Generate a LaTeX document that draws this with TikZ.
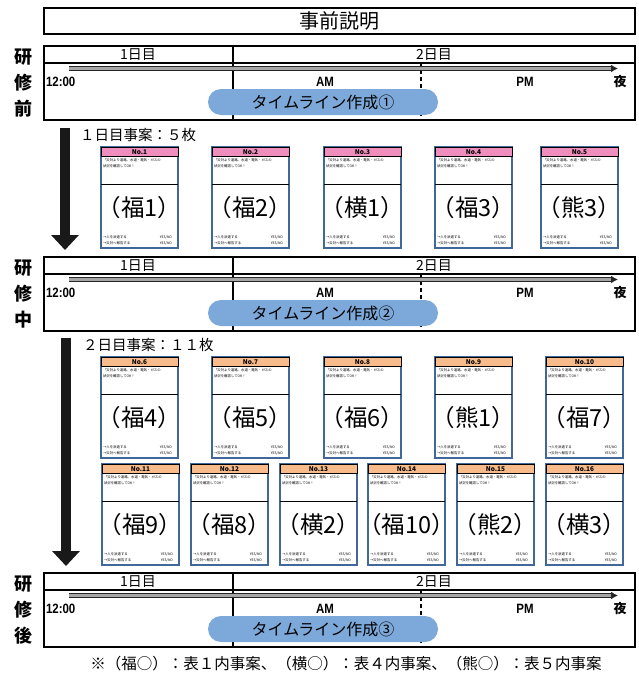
\documentclass[tikz,border=0pt]{standalone}
\usepackage{fontspec}
\setmainfont{Noto Sans CJK JP}
\newfontfamily\latf{Liberation Sans}
\usetikzlibrary{arrows.meta}
\definecolor{pillblue}{HTML}{7CA9DA}
\definecolor{cardblue}{HTML}{41689A}
\definecolor{headpink}{HTML}{EF8DBD}
\definecolor{headorange}{HTML}{F8BC8C}
\tikzset{
  frame/.style={draw=black, line width=1.8pt},
  frameline/.style={draw=black, line width=1.8pt},
  dashline/.style={draw=black, line width=2pt, dash pattern=on 4pt off 3pt},
  daylbl/.style={font=\fontsize{14}{14}\selectfont},
  timelbl/.style={font=\latf\bfseries\fontsize{13.5}{13.5}\selectfont},
  nightlbl/.style={font=\bfseries\fontsize{13}{13}\selectfont},
  sidelbl/.style={font=\bfseries\fontsize{18}{18}\selectfont},
  pill/.style={fill=pillblue, rounded corners=13pt, minimum width=230pt, minimum height=26pt, font=\fontsize{16}{16}\selectfont},
  tline/.style={draw=black!85, line width=1.4pt, double=gray!70, double distance=2.2pt, -{Latex[length=7pt,width=8pt]}},
  bigarrow/.style={draw=black!90, line width=10pt, -{Triangle[length=15pt,width=27pt]}},
  cardframe/.style={draw=cardblue, line width=1.4pt, minimum width=77pt, minimum height=101pt, anchor=north west},
  cardhead/.style={draw=black, line width=1pt, minimum width=77pt, minimum height=9.5pt, anchor=north west, font=\bfseries\fontsize{6.5}{6.5}\selectfont},
  tinytxt/.style={font=\fontsize{3.4}{5.4}\selectfont, align=left},
  bigtxt/.style={font=\fontsize{23.5}{23.5}\selectfont},
  countlbl/.style={font=\fontsize{14.5}{14.5}\selectfont, anchor=west}
}
\newcommand\tlbox[6]{%
  \node[frame, minimum width=591pt, minimum height=74pt, anchor=north west] (tl#6) at (44,#1) {};
  \draw[frameline] (44,#1+17) -- (635,#1+17);
  \draw[frameline] (233,#1) -- (233,#1+74);
  \draw[dashline] (421,#1+17) -- (421,#1+74);
  \node[daylbl] (da#6) at (138,#1+9) {1日目};
  \node[daylbl] (db#6) at (434,#1+9) {2日目};
  \coordinate (as#6) at (69,#1+22.5);
  \coordinate (ae#6) at (618,#1+22.5);
  \draw[tline] (as#6) -- (ae#6);
  \node[timelbl, anchor=west] (n#6) at (46,#1+36) {\scalebox{0.85}[1]{12:00}};
  \node[timelbl] (am#6) at (325,#1+36) {\scalebox{0.85}[1]{AM}};
  \node[timelbl] (pm#6) at (525,#1+36) {\scalebox{0.85}[1]{PM}};
  \node[nightlbl] (y#6) at (620,#1+36) {夜};
  \node[pill] (p#6) at (323,#1+56) {タイムライン作成#5};
  \node[sidelbl] (sa#6) at (23,#1+11) {研};
  \node[sidelbl] (sb#6) at (23,#1+37) {修};
  \node[sidelbl] (sc#6) at (23,#1+63) {#2};
}
\newcommand\jcard[6]{% name, x, y, number, label, colour
  \begin{scope}[shift={(#2,#3)}]
    \node[cardframe, fill=white] (c#1) at (0,0) {};
    \node[cardhead, fill=#6] (h#1) at (0,0) {No.#4};
    \node[tinytxt, anchor=north west] (u#1) at (2,12) {「災対より道路、水道・電気・ガスの\\状況を確認してOK！};
    \draw[black, line width=1.2pt] (0,37.5) -- (77,37.5);
    \node[bigtxt] (l#1) at (38.5,61) {（#5）};
    \node[tinytxt, anchor=west] (pa#1) at (2,90.5) {→人を派遣する};
    \node[tinytxt, anchor=east] (ya#1) at (71,90.5) {YES/NO};
    \node[tinytxt, anchor=west] (pb#1) at (2,96.5) {→災対へ報告する};
    \node[tinytxt, anchor=east] (yb#1) at (71,96.5) {YES/NO};
  \end{scope}
}
\begin{document}
\begin{tikzpicture}[x=1pt,y=-1pt, every node/.style={inner sep=0pt, outer sep=0pt}]
\useasboundingbox (0,0) rectangle (638,675);
% title
\node[frame, minimum width=591pt, minimum height=26pt, anchor=north west] (title) at (44,8) {};
\node[font=\fontsize{20}{20}\selectfont] (titletext) at (339.5,21) {事前説明};
% timelines
\tlbox{46}{前}{}{}{①}{A}
\tlbox{257}{中}{}{}{②}{B}
\tlbox{573}{後}{}{}{③}{C}
% arrows
\coordinate (ba1) at (65,128);
\coordinate (be1) at (65,250);
\draw[bigarrow] (ba1) -- (be1);
\coordinate (ba2) at (66,338);
\coordinate (be2) at (66,566);
\draw[bigarrow] (ba2) -- (be2);
\node[countlbl] (cnt1) at (80,135) {１日目事案：５枚};
\node[countlbl] (cnt2) at (83,345) {２日目事案：１１枚};
% row 1
\jcard{1}{101}{147}{1}{福1}{headpink}
\jcard{2}{212}{147}{2}{福2}{headpink}
\jcard{3}{324}{147}{3}{横1}{headpink}
\jcard{4}{435}{147}{4}{福3}{headpink}
\jcard{5}{541}{147}{5}{熊3}{headpink}
% row 2
\jcard{6}{101}{357}{6}{福4}{headorange}
\jcard{7}{212}{357}{7}{福5}{headorange}
\jcard{8}{324}{357}{8}{福6}{headorange}
\jcard{9}{435}{357}{9}{熊1}{headorange}
\jcard{10}{546}{357}{10}{福7}{headorange}
% row 3
\jcard{11}{102}{464}{11}{福9}{headorange}
\jcard{12}{191}{464}{12}{福8}{headorange}
\jcard{13}{280}{464}{13}{横2}{headorange}
\jcard{14}{368}{464}{14}{福10}{headorange}
\jcard{15}{457}{464}{15}{熊2}{headorange}
\jcard{16}{546}{464}{16}{横3}{headorange}
% footnote
\node[font=\fontsize{15.5}{15.5}\selectfont] (note) at (346,664) {※（福○）：表１内事案、（横○）：表４内事案、（熊○）：表５内事案};
\end{tikzpicture}
\end{document}
